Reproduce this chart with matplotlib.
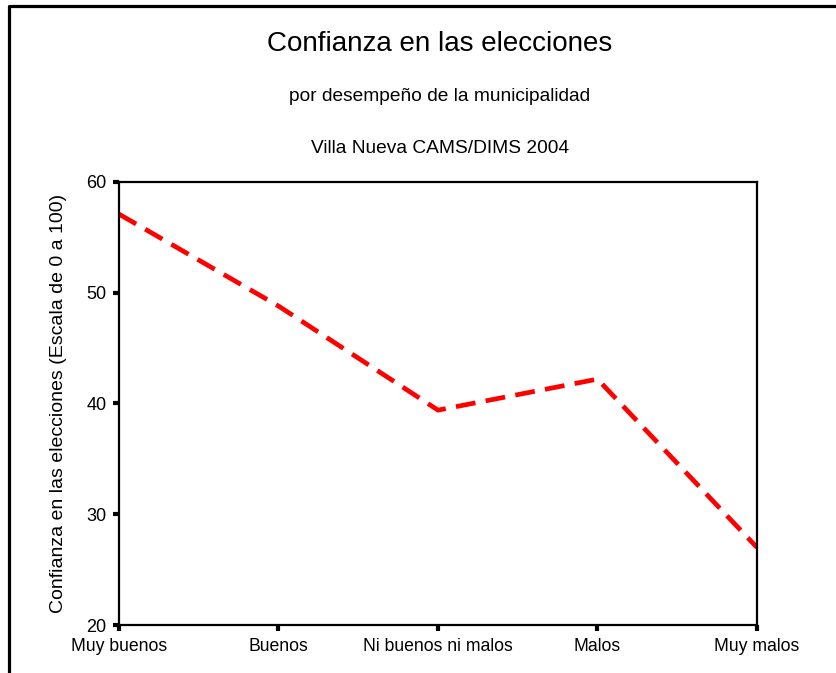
import matplotlib
matplotlib.use("Agg")
import matplotlib.pyplot as plt
from matplotlib.lines import Line2D

plt.rcParams['font.family'] = ['Liberation Sans', 'DejaVu Sans']

# Datos
categorias = ["Muy buenos", "Buenos", "Ni buenos ni malos", "Malos", "Muy malos"]
confianza = [57.1, 48.8, 39.4, 42.2, 27.0]
y_ticks = [20, 30, 40, 50, 60]

fig = plt.figure(figsize=(8.36, 6.73), dpi=100)
ax = fig.add_axes([0.1423, 0.0713, 0.7632, 0.6583])

x = list(range(len(categorias)))
ax.plot(x, confianza, color='red', lw=3.4, dashes=(4.2, 2.2), solid_joinstyle='miter')

ax.set_xlim(0, len(categorias) - 1)
ax.set_ylim(20, 60)
ax.set_xticks(x)
ax.set_xticklabels(categorias, fontsize=12.7)
ax.set_yticks(y_ticks)
ax.tick_params(axis='y', labelsize=13, length=4, width=3, pad=5)
ax.tick_params(axis='x', length=4, width=3, pad=5)
for s in ax.spines.values():
    s.set_linewidth(1.6)
ax.set_ylabel("Confianza en las elecciones (Escala de 0 a 100)", fontsize=14, labelpad=14)

# titulos
fig.text(0.526, 0.9346, "Confianza en las elecciones", ha='center', va='center', fontsize=20)
fig.text(0.526, 0.856, "por desempeño de la municipalidad", ha='center', va='center', fontsize=13.8)
fig.text(0.526, 0.780, "Villa Nueva CAMS/DIMS 2004", ha='center', va='center', fontsize=13.8)

# marco exterior (solo borde superior e izquierdo visibles)
fig.add_artist(Line2D([9 / 836, 9 / 836, 1], [0, 1 - 6 / 673, 1 - 6 / 673],
                      transform=fig.transFigure, color='black', lw=2.3))

fig.savefig("out.png", dpi=100)
